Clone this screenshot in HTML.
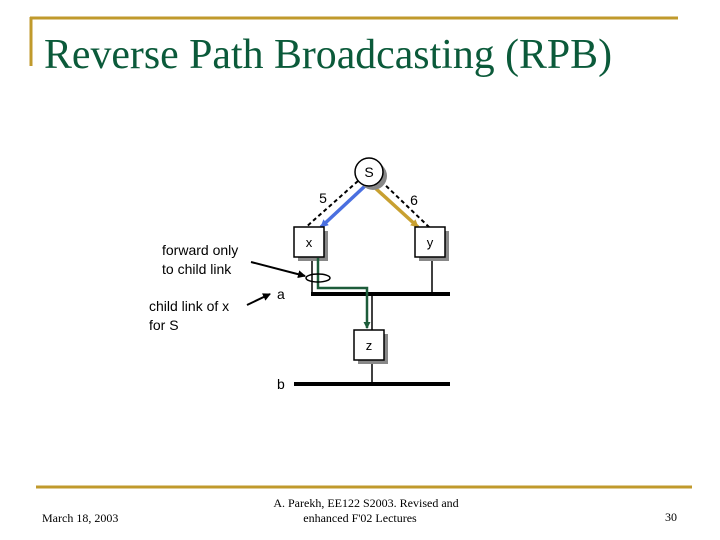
<!DOCTYPE html>
<html><head><meta charset="utf-8"><style>
html,body{margin:0;padding:0;background:#fff;}
svg{display:block}
</style></head><body>
<svg width="720" height="540" viewBox="0 0 720 540" xmlns="http://www.w3.org/2000/svg">
<defs>
<marker id="ah" markerWidth="8" markerHeight="8" refX="7" refY="4" orient="auto" markerUnits="userSpaceOnUse">
<path d="M0,0 L8,4 L0,8 Z" fill="#000"/></marker>
<marker id="ahb" markerWidth="8" markerHeight="8" refX="7" refY="4" orient="auto" markerUnits="userSpaceOnUse">
<path d="M0,0 L8,4 L0,8 Z" fill="#4a6fe0"/></marker>
<marker id="aho" markerWidth="8" markerHeight="8" refX="7" refY="4" orient="auto" markerUnits="userSpaceOnUse">
<path d="M0,0 L8,4 L0,8 Z" fill="#c8a030"/></marker>
<marker id="ahg" markerWidth="7" markerHeight="7" refX="6" refY="3.5" orient="auto" markerUnits="userSpaceOnUse">
<path d="M0,0 L7,3.5 L0,7 Z" fill="#1d5c3a"/></marker>
</defs>
<!-- frame -->
<line x1="30" y1="18" x2="678" y2="18" stroke="#c09a2c" stroke-width="3"/>
<line x1="31" y1="17" x2="31" y2="66" stroke="#c09a2c" stroke-width="3"/>
<text x="44" y="68" font-family="Liberation Serif, serif" font-size="42" fill="#0b5a3a" textLength="568" lengthAdjust="spacingAndGlyphs">Reverse Path Broadcasting (RPB)</text>
<line x1="36" y1="487" x2="692" y2="487" stroke="#c09a2c" stroke-width="3"/>
<text x="42" y="522" font-family="Liberation Serif, serif" font-size="12" fill="#000">March 18, 2003</text>
<text x="366" y="507" text-anchor="middle" font-family="Liberation Serif, serif" font-size="12" fill="#000">A. Parekh, EE122 S2003. Revised and</text>
<text x="360" y="522" text-anchor="middle" font-family="Liberation Serif, serif" font-size="12" fill="#000">enhanced F'02 Lectures</text>
<text x="677" y="521" text-anchor="end" font-family="Liberation Serif, serif" font-size="12" fill="#000">30</text>

<!-- buses -->
<line x1="311" y1="294" x2="450" y2="294" stroke="#000" stroke-width="4"/>
<line x1="294" y1="384" x2="450" y2="384" stroke="#000" stroke-width="4"/>
<line x1="312" y1="257" x2="312" y2="294" stroke="#000" stroke-width="1.5"/>
<line x1="432" y1="257" x2="432" y2="294" stroke="#000" stroke-width="1.5"/>
<line x1="372" y1="294" x2="372" y2="330" stroke="#000" stroke-width="1.5"/>
<line x1="372" y1="360" x2="372" y2="384" stroke="#000" stroke-width="1.5"/>

<!-- dashed links -->
<line x1="358" y1="181" x2="305" y2="228" stroke="#000" stroke-width="2" stroke-dasharray="4,3"/>
<line x1="381" y1="181" x2="430" y2="228" stroke="#000" stroke-width="2" stroke-dasharray="4,3"/>
<line x1="365" y1="186" x2="321" y2="227" stroke="#4a6fe0" stroke-width="3.5" marker-end="url(#ahb)"/>
<line x1="373" y1="186" x2="418" y2="227" stroke="#c8a030" stroke-width="3.5" marker-end="url(#aho)"/>

<!-- nodes with shadows -->
<circle cx="373" cy="176" r="14" fill="#888"/>
<circle cx="369" cy="172" r="14" fill="#fff" stroke="#000" stroke-width="1.5"/>
<text x="369" y="177" text-anchor="middle" font-family="Liberation Sans, sans-serif" font-size="14">S</text>
<rect x="298" y="231" width="30" height="30" fill="#888"/>
<rect x="294" y="227" width="30" height="30" fill="#fff" stroke="#000" stroke-width="1.5"/>
<text x="309" y="247" text-anchor="middle" font-family="Liberation Sans, sans-serif" font-size="13">x</text>
<rect x="419" y="231" width="30" height="30" fill="#888"/>
<rect x="415" y="227" width="30" height="30" fill="#fff" stroke="#000" stroke-width="1.5"/>
<text x="430" y="247" text-anchor="middle" font-family="Liberation Sans, sans-serif" font-size="13">y</text>
<rect x="358" y="334" width="30" height="30" fill="#888"/>
<rect x="354" y="330" width="30" height="30" fill="#fff" stroke="#000" stroke-width="1.5"/>
<text x="369" y="350" text-anchor="middle" font-family="Liberation Sans, sans-serif" font-size="13">z</text>

<text x="323" y="203" text-anchor="middle" font-family="Liberation Sans, sans-serif" font-size="14">5</text>
<text x="414" y="205" text-anchor="middle" font-family="Liberation Sans, sans-serif" font-size="14">6</text>
<text x="277" y="299" font-family="Liberation Sans, sans-serif" font-size="14">a</text>
<text x="277" y="389" font-family="Liberation Sans, sans-serif" font-size="14">b</text>

<!-- green path -->
<polyline points="318,258 318,288 367,288 367,328" fill="none" stroke="#1d5c3a" stroke-width="2.5" marker-end="url(#ahg)"/>
<ellipse cx="318" cy="278" rx="12" ry="4" fill="none" stroke="#000" stroke-width="1.5"/>

<!-- annotations -->
<text x="162" y="255" font-family="Liberation Sans, sans-serif" font-size="14">forward only</text>
<text x="162" y="274" font-family="Liberation Sans, sans-serif" font-size="14">to child link</text>
<line x1="251" y1="262" x2="305" y2="276" stroke="#000" stroke-width="2" marker-end="url(#ah)"/>
<text x="149" y="311" font-family="Liberation Sans, sans-serif" font-size="14">child link of x</text>
<text x="149" y="330" font-family="Liberation Sans, sans-serif" font-size="14">for S</text>
<line x1="247" y1="305" x2="270" y2="294" stroke="#000" stroke-width="2" marker-end="url(#ah)"/>
</svg>
</body></html>
